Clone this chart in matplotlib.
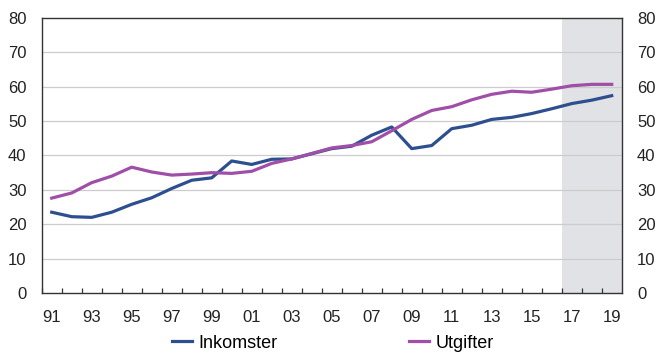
import numpy as np
import matplotlib
matplotlib.use("Agg")
from matplotlib import pyplot as plt

plt.rcParams['font.family'] = ['Liberation Sans', 'DejaVu Sans']

# Data
years = np.arange(1991, 2020)
inkomster = [23.5, 22.2, 22.0, 23.5, 25.8, 27.7, 30.4, 32.8, 33.5, 38.4,
             37.4, 38.9, 39.0, 40.5, 42.0, 42.7, 45.9, 48.3, 42.0, 42.9,
             47.8, 48.8, 50.5, 51.1, 52.2, 53.6, 55.1, 56.1, 57.4]
utgifter = [27.6, 29.1, 32.1, 34.0, 36.6, 35.2, 34.3, 34.6, 35.0, 34.8,
            35.4, 37.7, 39.0, 40.6, 42.2, 42.9, 44.0, 47.2, 50.5, 53.1,
            54.2, 56.2, 57.8, 58.7, 58.4, 59.3, 60.3, 60.7, 60.7]
tick_years = np.arange(1991, 2020, 2)
tick_labels = ["%02d" % (y % 100) for y in tick_years]
prognose_start = 2016.5

fig = plt.figure(figsize=(6.55, 3.53), dpi=100)
ax = fig.add_axes([0.0637, 0.170, 0.8855, 0.779])

ax.axvspan(prognose_start, 2019.5, color="#e1e2e5", lw=0, zorder=0)
for v in range(10, 80, 10):
    ax.axhline(v, color="#cccccc", lw=0.9, zorder=1)

ax.plot(years, inkomster, color="#2e4f8f", lw=2.3, label="Inkomster", zorder=3)
ax.plot(years, utgifter, color="#a04fa8", lw=2.3, label="Utgifter", zorder=3)

ax.set_xlim(1990.5, 2019.5)
ax.set_ylim(0, 80)
ax.set_xticks(tick_years)
ax.set_xticklabels(tick_labels)
ax.set_xticks(np.arange(1990.5, 2019.5, 1), minor=True)
ax.tick_params(axis="x", which="major", length=0, pad=12, labelsize=12, colors="#222222")
ax.tick_params(axis="x", which="minor", direction="in", length=3.5, width=0.9, color="#333333")
ax.set_yticks(range(0, 90, 10))
ax.tick_params(axis="y", length=0, pad=11, labelsize=12, colors="#222222",
               labelright=True, right=False)
for s in ax.spines.values():
    s.set_color("#333333")
    s.set_linewidth(1.0)

fig.legend(loc="center", bbox_to_anchor=(0.508, 0.028), ncol=2, frameon=False,
           fontsize=13, handlelength=1.1, handletextpad=0.35, columnspacing=7.3)

fig.savefig("out.png", dpi=100)
